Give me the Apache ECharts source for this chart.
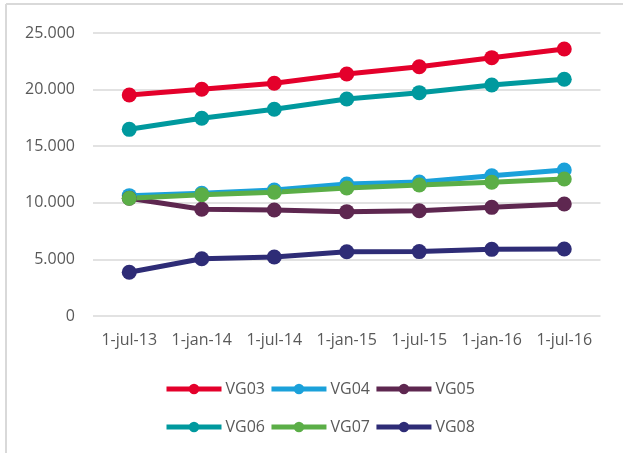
<!DOCTYPE html>
<html>
<head>
<meta charset="utf-8">
<script src="https://cdn.jsdelivr.net/npm/echarts@6/dist/echarts.min.js"></script>
<style>
  html, body { margin: 0; padding: 0; background: #fff; }
  #chart { width: 623px; height: 453px; }
</style>
</head>
<body>
<div id="chart"></div>
<script>
var dates = ["1-jul-13", "1-jan-14", "1-jul-14", "1-jan-15", "1-jul-15", "1-jan-16", "1-jul-16"];
var vg03 = [19520, 20030, 20560, 21380, 22020, 22820, 23590];
var vg04 = [10630, 10840, 11130, 11660, 11840, 12390, 12900];
var vg05 = [10400, 9430, 9360, 9220, 9300, 9600, 9890];
var vg06 = [16490, 17470, 18260, 19170, 19730, 20410, 20910];
var vg07 = [10400, 10720, 10930, 11310, 11570, 11810, 12100];
var vg08 = [3860, 5060, 5210, 5680, 5690, 5890, 5920];

var myChart = echarts.init(document.getElementById("chart"));
var font = "'Open Sans', sans-serif";

function line(name, data, color) {
  return {
    name: name,
    type: "line",
    data: data,
    symbol: "circle",
    symbolSize: 15,
    lineStyle: { width: 5, color: color },
    itemStyle: { color: color },
    animation: false
  };
}

var legendBase = {
  left: 159,
  itemWidth: 55, itemHeight: 13, itemGap: 4,
  lineStyle: { width: 5 },
  textStyle: { fontSize: 16, color: "#595959", fontFamily: font, padding: [0, 0, 0, -1] }
};

var option = {
  textStyle: { fontFamily: font },
  graphic: [
    { type: "line", shape: { x1: 6, y1: 4, x2: 6, y2: 453 }, style: { stroke: "#d9d9d9", lineWidth: 2 } },
    { type: "line", shape: { x1: 6, y1: 4, x2: 623, y2: 4 }, style: { stroke: "#d9d9d9", lineWidth: 2 } }
  ],
  grid: { left: 93, right: 22.5, top: 33, bottom: 137 },
  legend: [
    Object.assign({ data: ["VG03", "VG04", "VG05"], top: 376 }, legendBase),
    Object.assign({ data: ["VG06", "VG07", "VG08"], top: 414 }, legendBase)
  ],
  xAxis: {
    type: "category",
    data: dates,
    boundaryGap: true,
    axisLine: { show: false },
    axisTick: { show: false },
    axisLabel: { color: "#595959", fontSize: 16, margin: 16, fontFamily: font, interval: 0 }
  },
  yAxis: {
    type: "value",
    min: 0, max: 25000, interval: 5000,
    axisLine: { show: false },
    axisTick: { show: false },
    splitLine: { lineStyle: { color: "#d9d9d9", width: 1.5 } },
    axisLabel: {
      color: "#595959", fontSize: 16, margin: 18, fontFamily: font,
      formatter: function (v) {
        return v === 0 ? "0" : (v / 1000) + ".000";
      }
    }
  },
  series: [
    line("VG03", vg03, "#E4002B"),
    line("VG04", vg04, "#1BA1DA"),
    line("VG05", vg05, "#5E2750"),
    line("VG06", vg06, "#00999E"),
    line("VG07", vg07, "#5BAE47"),
    line("VG08", vg08, "#2E2C76")
  ]
};
myChart.setOption(option);
</script>
</body>
</html>
